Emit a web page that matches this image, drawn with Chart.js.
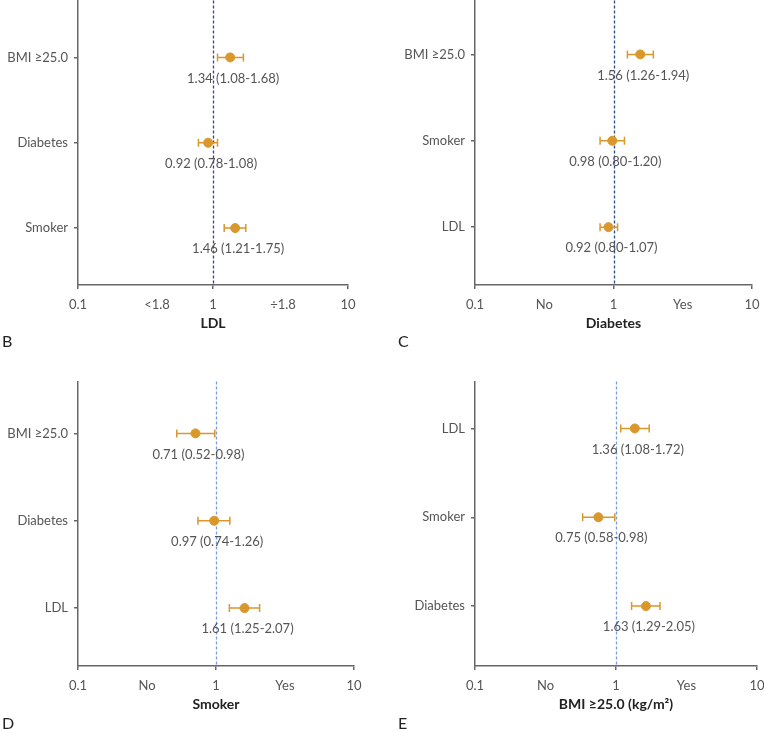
<!DOCTYPE html>
<html>
<head>
<meta charset="utf-8">
<script src="https://cdn.jsdelivr.net/npm/chart.js@4"></script>
<style>
  body { margin: 0; background: #fff; width: 764px; height: 733px; overflow: hidden; position: relative; }
  .box { position: absolute; }
  .tag { position: absolute; font: 16px Lato, sans-serif; color: #222; }
</style>
</head>
<body>
<div class="box" style="left:0;top:-5px;width:360px;height:345px"><canvas id="c1"></canvas></div>
<div class="box" style="left:380px;top:-5px;width:384px;height:345px"><canvas id="c2"></canvas></div>
<div class="box" style="left:0;top:376px;width:366px;height:345px"><canvas id="c3"></canvas></div>
<div class="box" style="left:380px;top:376px;width:384px;height:345px"><canvas id="c4"></canvas></div>
<div class="tag" style="left:2px;top:331px">B</div>
<div class="tag" style="left:398px;top:331px">C</div>
<div class="tag" style="left:2px;top:713px">D</div>
<div class="tag" style="left:398px;top:713px">E</div>
<script>
'use strict';

// panel B : LDL
var ldlRows = ['BMI ≥25.0', 'Diabetes', 'Smoker'];
var ldlOR   = [1.34, 0.92, 1.46];
var ldlLow  = [1.08, 0.78, 1.21];
var ldlHigh = [1.68, 1.08, 1.75];

// panel C : Diabetes
var dmRows = ['BMI ≥25.0', 'Smoker', 'LDL'];
var dmOR   = [1.56, 0.98, 0.92];
var dmLow  = [1.26, 0.80, 0.80];
var dmHigh = [1.94, 1.20, 1.07];

// panel D : Smoker
var smRows = ['BMI ≥25.0', 'Diabetes', 'LDL'];
var smOR   = [0.71, 0.97, 1.61];
var smLow  = [0.52, 0.74, 1.25];
var smHigh = [0.98, 1.26, 2.07];

// panel E : BMI
var bmiRows = ['LDL', 'Smoker', 'Diabetes'];
var bmiOR   = [1.36, 0.75, 1.63];
var bmiLow  = [1.08, 0.58, 1.29];
var bmiHigh = [1.72, 0.98, 2.05];

var ticksLDL = ['0.1', '<1.8', '1', '÷1.8', '10'];
var ticksYesNo = ['0.1', 'No', '1', 'Yes', '10'];

const ORANGE = '#d9972c';
const TXT = '#555';

// error bars + OR text + reference line
var forestPlugin = {
    id: 'forest',
    beforeDatasetsDraw: function(chart, args, opts){
        const ctx = chart.ctx, x = chart.scales.x, a = chart.chartArea;
        const px = Math.round(x.getPixelForValue(1)) + 0.5;
        ctx.save();
        ctx.strokeStyle = opts.refColor;
        ctx.lineWidth = 1.3;
        ctx.setLineDash([3, 2]);
        ctx.beginPath();
        ctx.moveTo(px, a.top);
        ctx.lineTo(px, a.bottom);
        ctx.stroke();
        ctx.restore();
    },
    afterDatasetsDraw: function(chart, args, opts){
        const ctx = chart.ctx, x = chart.scales.x, y = chart.scales.y;
        ctx.save();
        for (var i = 0; i < opts.or.length; i++) {
            var yy = y.getPixelForValue(i);
            var x1 = x.getPixelForValue(opts.low[i]);
            var x2 = x.getPixelForValue(opts.high[i]);
            ctx.strokeStyle = ORANGE;
            ctx.lineWidth = 1.5;
            ctx.beginPath();
            ctx.moveTo(x1, yy); ctx.lineTo(x2, yy);
            ctx.moveTo(x1, yy - 4); ctx.lineTo(x1, yy + 4);
            ctx.moveTo(x2, yy - 4); ctx.lineTo(x2, yy + 4);
            ctx.stroke();
            ctx.fillStyle = TXT;
            ctx.font = '13px Lato, sans-serif';
            ctx.textAlign = 'center';
            ctx.textBaseline = 'middle';
            var s = opts.or[i].toFixed(2) + ' (' + opts.low[i].toFixed(2) + '-' + opts.high[i].toFixed(2) + ')';
            ctx.fillText(s, x.getPixelForValue(opts.or[i]) + 3, yy + 21);
        }
        ctx.restore();
    }
};

function makeForest(id, rows, or, low, high, xLabels, midTicks, title, yw, ymin, ymax, refColor, padRight){
    var pts = or.map(function(v, i){ return {x: v, y: i}; });
    return new Chart(document.getElementById(id), {
        type: 'scatter',
        data: { datasets: [{
            data: pts,
            backgroundColor: ORANGE,
            borderColor: ORANGE,
            pointRadius: 4.5,
            pointHoverRadius: 4.5
        }]},
        plugins: [forestPlugin],
        options: {
            responsive: true,
            maintainAspectRatio: false,
            animation: false,
            layout: { padding: { top: 0, right: padRight, left: 0, bottom: 0 } },
            plugins: {
                legend: { display: false },
                tooltip: { enabled: false },
                forest: { or: or, low: low, high: high, refColor: refColor }
            },
            scales: {
                x: {
                    type: 'logarithmic',
                    min: 0.1, max: 10,
                    border: { color: '#666', width: 1.5 },
                    grid: {
                        drawOnChartArea: false, tickLength: 4,
                        color: function(c){ return (c.index === 1 || c.index === 3) ? 'rgba(0,0,0,0)' : '#666'; },
                        lineWidth: 1.5
                    },
                    afterBuildTicks: function(s){
                        s.ticks = [0.1, midTicks[0], 1, midTicks[1], 10].map(function(v){ return {value: v}; });
                    },
                    afterFit: function(s){ s.height = 55; s.paddingLeft = 0; s.paddingRight = 0; },
                    ticks: {
                        autoSkip: false, maxRotation: 0, padding: 8,
                        color: TXT, font: { family: 'Lato', size: 13 },
                        callback: function(v, i){ return xLabels[i]; }
                    },
                    title: {
                        display: true, text: title, color: '#222',
                        font: { family: 'Lato', size: 14, weight: 'bold' },
                        padding: { top: 0, bottom: 8 }
                    }
                },
                y: {
                    type: 'linear',
                    reverse: true,
                    min: ymin, max: ymax,
                    border: { color: '#666', width: 1.5 },
                    grid: { drawOnChartArea: false, tickLength: 4, color: '#666', lineWidth: 1.5 },
                    afterBuildTicks: function(s){
                        s.ticks = rows.map(function(r, i){ return {value: i}; });
                    },
                    afterFit: function(s){ s.width = yw; s.paddingTop = 0; s.paddingBottom = 0; },
                    ticks: {
                        autoSkip: false, padding: 6,
                        color: TXT, font: { family: 'Lato', size: 13 },
                        callback: function(v, i){ return rows[i]; }
                    }
                }
            }
        }
    });
}

makeForest('c1', ldlRows, ldlOR, ldlLow, ldlHigh, ticksLDL, [0.385, 3.3], 'LDL', 78, -0.667, 2.667, '#2b4a8c', 12);
makeForest('c2', dmRows, dmOR, dmLow, dmHigh, ticksYesNo, [0.316, 3.16], 'Diabetes', 95, -0.624, 2.67, '#2b4a8c', 12);
makeForest('c3', smRows, smOR, smLow, smHigh, ticksYesNo, [0.316, 3.16], 'Smoker', 78, -0.594, 2.663, '#7b9be0', 12);
makeForest('c4', bmiRows, bmiOR, bmiLow, bmiHigh, ticksYesNo, [0.316, 3.16], 'BMI ≥25.0 (kg/m²)', 95, -0.528, 2.674, '#7b9be0', 7);
</script>
</body>
</html>
